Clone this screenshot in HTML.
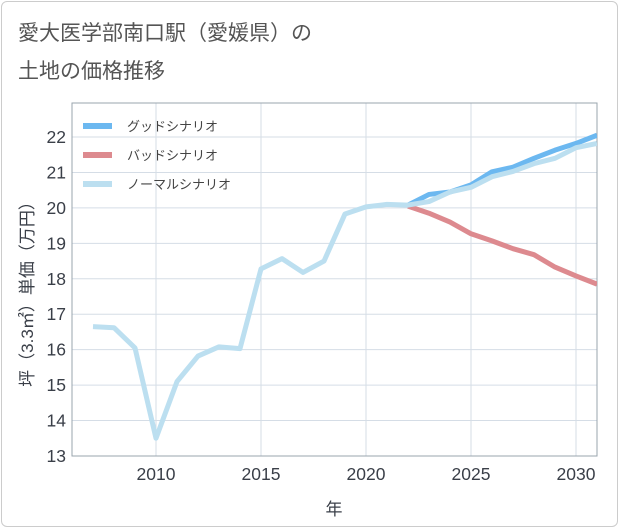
<!DOCTYPE html>
<html><head><meta charset="utf-8"><style>
html,body{margin:0;padding:0;background:#fff;}
body{width:621px;height:530px;overflow:hidden;font-family:"Liberation Sans","Noto Sans CJK JP",sans-serif;}
.frame{position:absolute;left:1px;top:1px;width:617px;height:526px;border:1px solid #ccc;border-radius:6px;box-sizing:border-box;}
.title{position:absolute;left:18px;font-size:21px;color:#555;}
</style></head><body>
<div class="frame"></div>
<div class="title" style="top:17px">愛大医学部南口駅（愛媛県）の</div>
<div class="title" style="top:55px">土地の価格推移</div>
<svg id="c" width="621" height="530" style="position:absolute;left:0;top:0"></svg>
<script>
const years=[2007,2008,2009,2010,2011,2012,2013,2014,2015,2016,2017,2018,2019,2020,2021,2022,2023,2024,2025,2026,2027,2028,2029,2030,2031];
const normal=[16.65,16.62,16.05,13.5,15.1,15.82,16.08,16.03,18.28,18.57,18.18,18.5,19.83,20.03,20.1,20.08,20.18,20.45,20.58,20.88,21.03,21.25,21.4,21.7,21.82];
const fYears=[2022,2023,2024,2025,2026,2027,2028,2029,2030,2031];
const good=[20.08,20.38,20.45,20.65,21.02,21.15,21.4,21.63,21.82,22.05];
const bad=[20.05,19.85,19.6,19.27,19.07,18.85,18.68,18.33,18.08,17.85];
const yTicks=[13,14,15,16,17,18,19,20,21,22];
const xTicks=[2010,2015,2020,2025,2030];
const L=72,R=597,T=103,B=456;
const x=v=>156+(v-2010)*21;
const y=v=>456-(v-13)*35.44;
const svg=document.getElementById('c');
const NS='http://www.w3.org/2000/svg';
function mk(t,a,p){const e=document.createElementNS(NS,t);for(const k in a)e.setAttribute(k,a[k]);(p||svg).appendChild(e);return e;}
for(const t of yTicks){
 const g=mk('line',{x1:L,x2:R,y1:y(t),y2:y(t),stroke:'#d5dde6','stroke-width':1});
 
 
 const tx=mk('text',{x:L-6,y:y(t)+6,'text-anchor':'end','font-size':17.5,fill:'#3a3f48'});
 tx.textContent=t;
 
 
}
for(const t of xTicks){
 const g=mk('line',{x1:x(t),x2:x(t),y1:T,y2:B,stroke:'#d5dde6','stroke-width':1});
 
 
 const tx=mk('text',{x:x(t),y:B+24,'text-anchor':'middle','font-size':17.5,fill:'#3a3f48'});
 tx.textContent=t;
 
 
}
const box=mk('rect',{x:L,y:T,width:R-L,height:B-T,fill:'none',stroke:'#99a4ae','stroke-width':1});


const clip=mk('clipPath',{id:'cp'});mk('rect',{x:L,y:T,width:R-L,height:B-T},clip);
function line(xs,ys,col,name){
 const p=mk('polyline',{points:xs.map((v,i)=>x(v)+','+y(ys[i])).join(' '),fill:'none',stroke:col,'stroke-width':5,'stroke-linejoin':'round','clip-path':'url(#cp)'});
 
 
}
line(fYears,good,'#6cb8f0','good-scenario-line');
line(fYears,bad,'#dd8a8f','bad-scenario-line');
line(years,normal,'#bcdff0','normal-scenario-line');
const leg=[['グッドシナリオ','#6cb8f0'],['バッドシナリオ','#dd8a8f'],['ノーマルシナリオ','#bcdff0']];
leg.forEach((d,i)=>{
 const yy=126+i*29;
 const l=mk('line',{x1:83,x2:112,y1:yy,y2:yy,stroke:d[1],'stroke-width':6});
 
 
 const t=mk('text',{x:127,y:yy+5,'font-size':13,fill:'#444'});
 t.textContent=d[0];
 
 
});
const yt=mk('text',{transform:'translate(33,290) rotate(-90)','text-anchor':'middle','font-size':17,fill:'#3a3f48'});
yt.textContent='坪（3.3㎡）単価（万円）';


const xt=mk('text',{x:334,y:515,'text-anchor':'middle','font-size':17,fill:'#3a3f48'});
xt.textContent='年';


</script>
</body></html>
